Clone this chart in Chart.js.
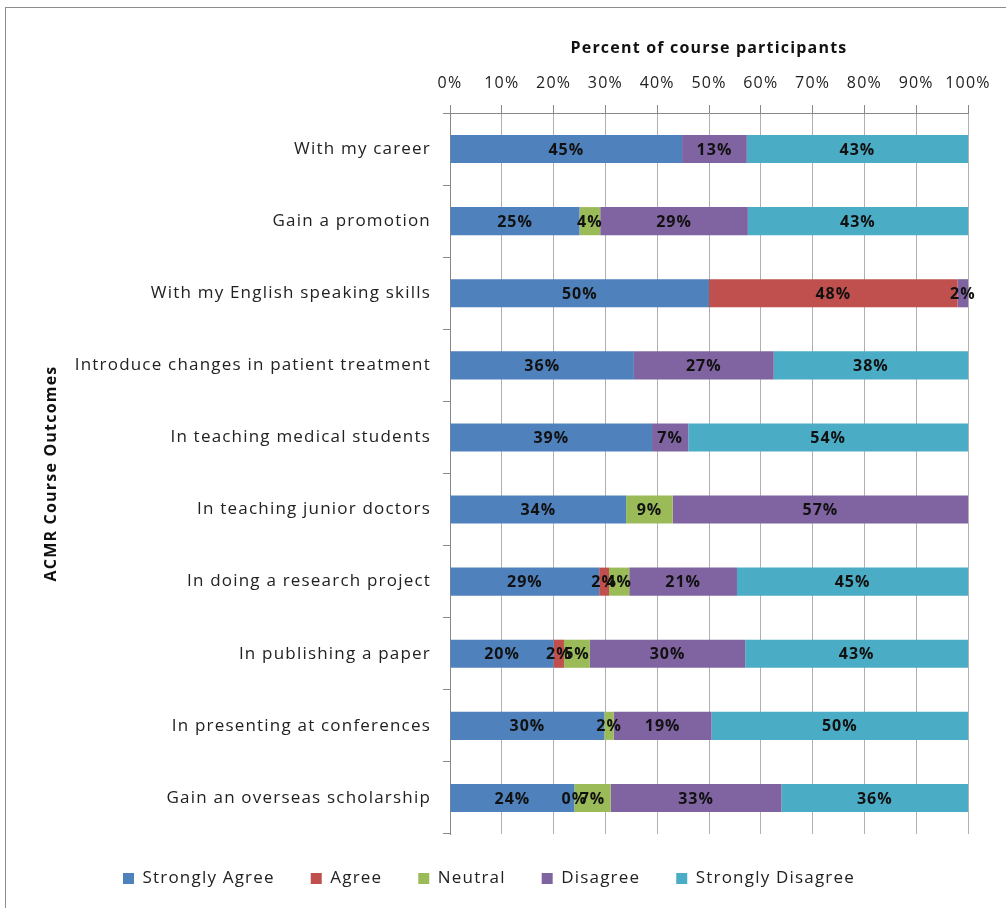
<!DOCTYPE html>
<html>
<head>
<meta charset="utf-8">
<script src="https://cdn.jsdelivr.net/npm/chart.js@4.4.1/dist/chart.umd.min.js"></script>
<style>
  html, body { margin: 0; padding: 0; background: #fff; }
  #frame { position: absolute; left: 5px; top: 7px; width: 1010px; height: 910px; border: 1px solid #8c8c8c; }
  #wrap { position: absolute; left: 0; top: 0; width: 1006px; height: 908px; }
</style>
</head>
<body>
<div id="frame"></div>
<div id="wrap"><canvas id="chart" width="1006" height="908"></canvas></div>
<script>
const categories = [
  "With my career",
  "Gain a promotion",
  "With my English speaking skills",
  "Introduce changes in patient treatment",
  "In teaching medical students",
  "In teaching junior doctors",
  "In doing a research project",
  "In publishing a paper",
  "In presenting at conferences",
  "Gain an overseas scholarship"
];

// percent of participants, null = no answer in that group (no bar, no label)
const stronglyAgree    = [44.8, 25,   50,   35.5, 39, 34,   28.8, 20, 29.8, 24];
const agree            = [null, null, 48,   null, null, null, 1.9, 2,  null, 0];
const neutral          = [null, 4,    null, null, null, 9,    3.9, 5,  1.8,  7];
const disagree         = [12.5, 28.5, 2,    27,   7,  57,   20.8, 30, 18.9, 33];
const stronglyDisagree = [42.7, 42.5, null, 37.5, 54, null, 44.6, 43, 49.5, 36];

const xTicks = [0, 10, 20, 30, 40, 50, 60, 70, 80, 90, 100];

const fontFam = "'Open Sans', 'Noto Sans', sans-serif";
const spacing = "1.2px";

const seriesList = [
  { label: "Strongly Agree",    data: stronglyAgree,    color: "#4F81BD" },
  { label: "Agree",             data: agree,            color: "#C0504D" },
  { label: "Neutral",           data: neutral,          color: "#9BBB59" },
  { label: "Disagree",          data: disagree,         color: "#8064A2" },
  { label: "Strongly Disagree", data: stronglyDisagree, color: "#4BACC6" }
];

// excel text is spaced out a bit, so widen letters for everything
const letterSpace = {
  id: 'letterSpace',
  beforeLayout(chart) { chart.ctx.letterSpacing = spacing; },
  beforeDraw(chart) { chart.ctx.letterSpacing = spacing; }
};

// draws the % text in the middle of each bar piece
const barLabels = {
  id: 'barLabels',
  afterDatasetsDraw(chart) {
    const ctx = chart.ctx;
    ctx.save();
    ctx.letterSpacing = "1px";
    ctx.font = "bold 16px " + fontFam;
    ctx.fillStyle = "#111";
    ctx.textAlign = "center";
    ctx.textBaseline = "middle";
    chart.data.datasets.forEach((ds, i) => {
      const meta = chart.getDatasetMeta(i);
      meta.data.forEach((bar, j) => {
        const v = ds.data[j];
        if (v === null || v === undefined) return;
        const p = bar.getCenterPoint();
        ctx.fillText(Math.round(v) + "%", p.x, p.y + 1);
      });
    });
    ctx.restore();
  }
};

const chartData = {
  labels: categories,
  datasets: seriesList.map(s => ({
    label: s.label,
    data: s.data,
    backgroundColor: s.color,
    borderWidth: 0,
    barPercentage: 0.39,
    categoryPercentage: 1
  }))
};

const config = {
  type: 'bar',
  data: chartData,
  plugins: [letterSpace, barLabels],
  options: {
    indexAxis: 'y',
    responsive: false,
    animation: false,
    layout: { padding: { left: 10, right: 38, top: 30, bottom: 11 } },
    plugins: {
      legend: {
        position: 'bottom',
        labels: {
          font: { family: fontFam, size: 17 },
          color: "#222",
          boxWidth: 11,
          boxHeight: 11,
          padding: 36
        }
      },
      tooltip: { enabled: false }
    },
    scales: {
      x: {
        position: 'top',
        stacked: true,
        min: 0,
        max: 100,
        afterBuildTicks: (scale) => { scale.ticks = xTicks.map(v => ({ value: v })); },
        afterFit: (scale) => { scale.height = 83; },
        ticks: {
          callback: (v) => v + "%",
          font: { family: fontFam, size: 16 },
          color: "#222",
          maxRotation: 0,
          autoSkip: false,
          padding: 12
        },
        grid: { color: "#b0b0b0", tickLength: 8, tickColor: "#888" },
        border: { color: "#888" },
        title: {
          display: true,
          text: "Percent of course participants",
          font: { family: fontFam, size: 16, weight: 'bold' },
          color: "#111",
          padding: { top: 9, bottom: 0 }
        }
      },
      y: {
        stacked: true,
        afterFit: (scale) => { scale.width = 440; },
        ticks: {
          font: { family: fontFam, size: 17 },
          color: "#222",
          padding: 12
        },
        grid: { offset: true, drawOnChartArea: false, tickLength: 7, tickColor: "#888" },
        border: { color: "#888" },
        title: {
          display: true,
          text: "ACMR Course Outcomes",
          font: { family: fontFam, size: 16, weight: 'bold' },
          color: "#111",
          padding: { top: 32, bottom: 0 }
        }
      }
    }
  }
};

const chart = new Chart(document.getElementById("chart").getContext('2d'), config);
</script>
</body>
</html>
